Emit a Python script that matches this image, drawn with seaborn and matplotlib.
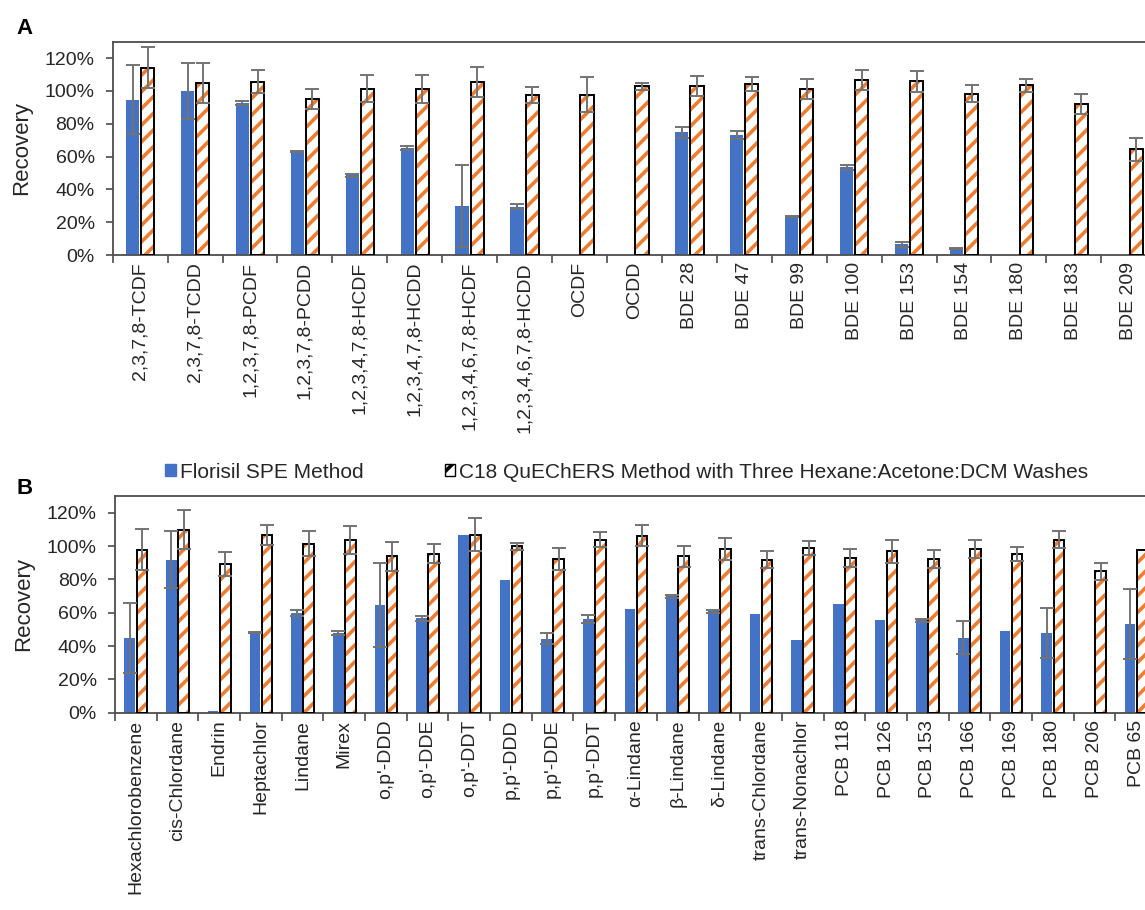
import pandas as pd
import matplotlib.pyplot as plt
import seaborn as sns
from matplotlib.patches import Patch, Rectangle
from matplotlib.ticker import PercentFormatter, FixedLocator

# Panel A data
compounds_a = ['2,3,7,8-TCDF', '2,3,7,8-TCDD', '1,2,3,7,8-PCDF', '1,2,3,7,8-PCDD',
               '1,2,3,4,7,8-HCDF', '1,2,3,4,7,8-HCDD', '1,2,3,4,6,7,8-HCDF',
               '1,2,3,4,6,7,8-HCDD', 'OCDF', 'OCDD', 'BDE 28', 'BDE 47', 'BDE 99',
               'BDE 100', 'BDE 153', 'BDE 154', 'BDE 180', 'BDE 183', 'BDE 209']
florisil_a = [94.5, 100, 92.7, 63, 48.5, 65.2, 29.8, 29.3, 0, 0, 74.9, 72.9, 23.7,
              53.6, 6.5, 4.1, 0, 0, 0]
florisil_a_sd = [21, 17, 1.4, 0.3, 1, 1.2, 25, 1.5, 0, 0, 3.4, 2.4, 0.3, 1.5, 1.5,
                 0.3, 0, 0, 0]
c18_a = [114, 104.9, 105.6, 94.9, 101.4, 101.2, 105.4, 97.6, 97.8, 102.8, 102.8,
         104.2, 101.2, 106.6, 105.8, 98.4, 103.4, 92.1, 64.4]
c18_a_sd = [12.5, 12, 7, 6, 8.3, 8.7, 9, 5, 10.5, 2, 6, 4.3, 6, 6, 6.5, 5, 4, 6, 7]

# Panel B data
compounds_b = ['Hexachlorobenzene', 'cis-Chlordane', 'Endrin', 'Heptachlor', 'Lindane',
               'Mirex', "o,p'-DDD", "o,p'-DDE", "o,p'-DDT", "p,p'-DDD", "p,p'-DDE",
               "p,p'-DDT", 'α-Lindane', 'β-Lindane', 'δ-Lindane', 'trans-Chlordane',
               'trans-Nonachlor', 'PCB 118', 'PCB 126', 'PCB 153', 'PCB 166',
               'PCB 169', 'PCB 180', 'PCB 206', 'PCB 65']
florisil_b = [44.7, 91.9, 1.0, 48.1, 59.8, 47.7, 64.6, 56.6, 106.9, 79.4, 44.5, 56.2,
              62.2, 69.8, 60.8, 59.2, 43.7, 65.0, 55.8, 55.4, 45.1, 49.1, 48.1, 0, 53.1]
florisil_b_sd = [21, 17, 0, 0.3, 1.6, 1.2, 25, 1.6, 0, 0, 3.2, 2.6, 0, 0.8, 1, 0, 0,
                 0, 0, 0.8, 10, 0, 15, 0, 21]
c18_b = [97.9, 109.9, 89.2, 106.5, 101.5, 103.9, 93.9, 95.5, 106.9, 99.9, 92.3, 103.9,
         106.3, 93.9, 98.3, 91.9, 98.9, 92.9, 96.9, 92.3, 98.3, 95.3, 103.9, 84.8, 97.5]
c18_b_sd = [12.4, 11.6, 7.4, 6, 7.4, 8.4, 8.8, 5.8, 10, 2, 6.4, 4.6, 6.4, 6.4, 6.4,
            5.2, 4, 5.6, 7, 5.2, 5.6, 4.2, 5.2, 5, 0]

methods = ['Florisil SPE Method',
           'C18 QuEChERS Method with Three Hexane:Acetone:DCM Washes']
blue = '#4472C4'
orange = '#ED7D31'
ecol = '#737373'
spine_col = '#4d4d4d'
text_col = '#262626'

sns.set_theme(style='white')
plt.rcParams['font.family'] = ['Liberation Sans', 'DejaVu Sans']
plt.rcParams['hatch.linewidth'] = 2.6


def make_df(compounds, flo, flo_sd, c18, c18_sd):
    d1 = pd.DataFrame({'compound': compounds, 'recovery': flo, 'sd': flo_sd,
                       'method': methods[0]})
    d2 = pd.DataFrame({'compound': compounds, 'recovery': c18, 'sd': c18_sd,
                       'method': methods[1]})
    return pd.concat([d1, d2], ignore_index=True)


def stripe(p):
    p.set_facecolor('white')
    p.set_edgecolor(orange)
    p.set_hatch('//')
    p.set_linewidth(0)
    if hasattr(p, 'set_hatch_linewidth'):
        p.set_hatch_linewidth(2.6)


def draw_panel(ax, df, compounds, width):
    sns.barplot(data=df, x='compound', y='recovery', hue='method', order=compounds,
                hue_order=methods, palette=[blue, orange], saturation=1, width=width,
                gap=0.12, errorbar=None, legend=False, ax=ax)
    # C18 bars: white with orange stripes + black outline
    for p in ax.containers[1]:
        stripe(p)
        ax.add_patch(Rectangle((p.get_x(), p.get_y()), p.get_width(), p.get_height(),
                               fill=False, edgecolor='black', lw=1.4, zorder=3))
    for p in ax.containers[0]:
        p.set_linewidth(0)
    # error bars
    for k, cont in enumerate(ax.containers[:2]):
        sub = df[df['method'] == methods[k]].set_index('compound').loc[compounds]
        xs, ys, es = [], [], []
        for p, (_, row) in zip(cont, sub.iterrows()):
            if row['sd'] > 0:
                xs.append(p.get_x() + p.get_width() / 2)
                ys.append(row['recovery'])
                es.append(row['sd'])
        ax.errorbar(xs, ys, yerr=es, fmt='none', ecolor=ecol, elinewidth=1.4,
                    capsize=5, capthick=1.4, zorder=4)
    ax.set_ylim(0, 130)
    ax.set_yticks(range(0, 121, 20))
    ax.yaxis.set_major_formatter(PercentFormatter(100, decimals=0))
    ax.set_xlim(-0.5, len(compounds) - 0.5)
    ax.set_xlabel('')
    ax.set_ylabel('Recovery', fontsize=16, color=text_col, labelpad=9)
    ax.tick_params(axis='x', which='major', length=0, pad=5, labelsize=14,
                   labelcolor=text_col, rotation=90)
    ax.xaxis.set_minor_locator(FixedLocator([i - 0.5 for i in range(len(compounds) + 1)]))
    ax.tick_params(axis='x', which='minor', length=6, width=1.2, color=spine_col,
                   direction='out', bottom=True)
    ax.tick_params(axis='y', length=5, width=1.2, color=spine_col, direction='out',
                   left=True, labelsize=14, labelcolor=text_col, pad=8)
    for s in ax.spines.values():
        s.set_color(spine_col)
        s.set_linewidth(1.3)


fig = plt.figure(figsize=(11.45, 9.10), dpi=100)
ax_a = fig.add_axes([112.7 / 1145, 1 - 255 / 910, 1043.5 / 1145, 213.3 / 910])
ax_b = fig.add_axes([115 / 1145, 1 - 712.7 / 910, 1042 / 1145, 216.7 / 910])

df_a = make_df(compounds_a, florisil_a, florisil_a_sd, c18_a, c18_a_sd)
df_b = make_df(compounds_b, florisil_b, florisil_b_sd, c18_b, c18_b_sd)
draw_panel(ax_a, df_a, compounds_a, 0.55)
draw_panel(ax_b, df_b, compounds_b, 0.58)

fig.text(16 / 1145, 1 - 28 / 910, 'A', fontsize=16, fontweight='bold', color='black',
         ha='left', va='center')
fig.text(16 / 1145, 1 - 488 / 910, 'B', fontsize=16, fontweight='bold', color='black',
         ha='left', va='center')

c18_handle = Patch(facecolor='white', edgecolor=orange, hatch='//', lw=0)
handles = [Patch(facecolor=blue, edgecolor=blue), c18_handle]
leg = fig.legend(handles, methods, loc='center', bbox_to_anchor=(627 / 1145, 1 - 472 / 910),
                 ncol=2, frameon=False, fontsize=15, handlelength=0.5, handleheight=0.5,
                 handletextpad=0.2, columnspacing=3.9, labelcolor=text_col)
for h in leg.legend_handles[1:]:
    h.set_edgecolor('black')
    h.set_linewidth(1)

plt.savefig('out.png', dpi=100)
plt.close()
